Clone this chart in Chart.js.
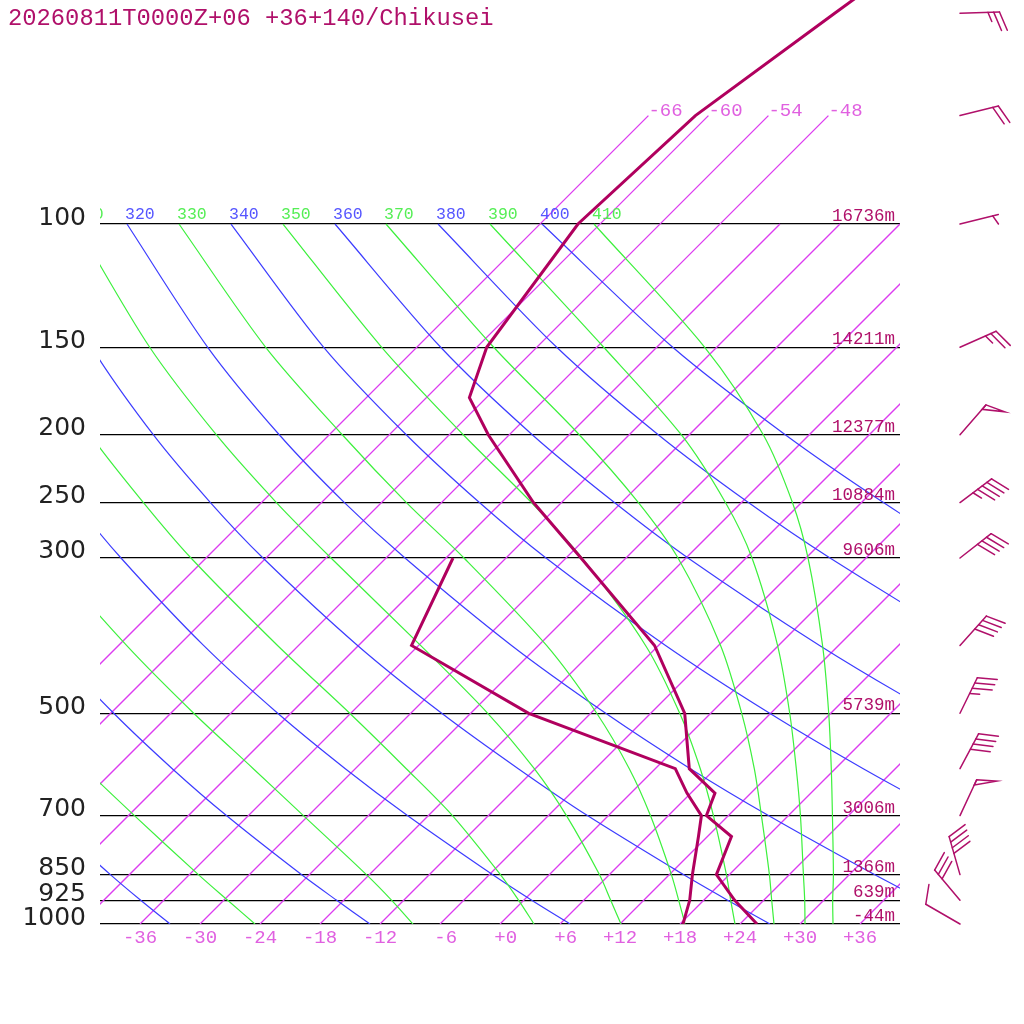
<!DOCTYPE html>
<html>
<head>
<meta charset="utf-8">
<title>Chikusei sounding</title>
<script src="https://cdn.jsdelivr.net/npm/chart.js@4.4.1/dist/chart.umd.min.js"></script>
<style>
  html, body { margin: 0; padding: 0; background: #fff; }
  canvas { display: block; }
</style>
</head>
<body>
<canvas id="skewt" width="1024" height="1024"></canvas>
<script>
// === Data ===
const TITLE = '20260811T0000Z+06 +36+140/Chikusei';

// pressure axis (hPa) and geopotential heights
const P_TOP = 47.86;
const PRESSURE_TICKS = [100, 150, 200, 250, 300, 500, 700, 850, 925, 1000];
const HEIGHTS = ['16736m', '14211m', '12377m', '10884m', '9606m', '5739m', '3006m', '1366m', '639m', '-44m'];

// temperature ticks along 1000 hPa
const T_TICKS = [-36, -30, -24, -18, -12, -6, 0, 6, 12, 18, 24, 30, 36];

// sounding
const TEMP_P = [1000, 925, 850, 750, 700, 650, 600, 500, 400, 300, 250, 200, 177, 150, 100, 70, 50, 40];
const TEMP_C = [25.7, 21.1, 16.7, 14.4, 9.8, 8.4, 3.4, -2.6, -12.4, -28.5, -38.8, -50.1, -55.7, -59.0, -62.2, -61.3, -57.6, -55.1];
const DEW_P = [1000, 925, 850, 750, 700, 650, 600, 500, 400, 300];
const DEW_C = [18.3, 16.6, 14.3, 11.1, 9.3, 5.6, 2.0, -18.2, -36.7, -41.3];

// wind barbs
const WIND_P = [50, 70, 100, 150, 200, 250, 300, 400, 500, 600, 700, 850, 925, 1000];
const WIND_DIR = [88, 76, 76, 66, 41, 53, 52, 42, 26, 28, 25, 344, 320, 300];
const WIND_KT = [25, 20, 5, 25, 50, 45, 40, 40, 35, 40, 50, 40, 30, 10];

// isotherms (deg C); the labelled ones reach up to 70 hPa
const ISOTHERMS = [-66, -60, -54, -48, -42, -36, -30, -24, -18, -12, -6, 0, 6, 12, 18, 24, 30, 36];
const ISOTHERM_LABELLED = [-66, -60, -54, -48];
const ISOTHERM_LABEL_P = 70;

// adiabats: temperature (deg C) at these levels
const ADIABAT_P = [1000, 925, 850, 700, 600, 500, 400, 300, 250, 200, 150, 100];

const DRY_THETA = [240, 260, 280, 300, 320, 340, 360, 380, 400];
const DRY_T = [
  [-33.0, -38.3, -43.9, -56.3, -65.6, -76.1, -88.3, -102.9, -111.5, -121.5, -133.4, -148.7],
  [-13.0, -18.7, -24.8, -38.2, -48.3, -59.7, -72.9, -88.7, -98.0, -108.8, -121.8, -138.3],
  [7.0, 0.8, -5.7, -20.1, -31.0, -43.3, -57.5, -74.5, -84.6, -96.2, -110.2, -128.0],
  [27.0, 20.4, 13.4, -2.1, -13.7, -26.9, -42.1, -60.3, -71.1, -83.6, -98.5, -117.6],
  [47.0, 40.0, 32.5, 16.0, 3.5, -10.5, -26.7, -46.1, -57.7, -71.0, -86.9, -107.3],
  [67.0, 59.5, 51.6, 34.1, 20.8, 5.9, -11.3, -32.0, -44.2, -58.3, -75.3, -96.9],
  [87.0, 79.1, 70.7, 52.1, 38.1, 22.3, 4.1, -17.8, -30.7, -45.7, -63.6, -86.5],
  [107.0, 98.6, 89.8, 70.2, 55.4, 38.7, 19.5, -3.6, -17.3, -33.1, -52.0, -76.2],
  [127.0, 118.2, 108.9, 88.2, 72.7, 55.1, 34.9, 10.6, -3.8, -20.4, -40.4, -65.8]
];

const MOIST_THETA = [250, 270, 290, 310, 330, 350, 370, 390, 410];
const MOIST_T = [
  [-24.5, -29.6, -35.1, -47.4, -57.0, -67.9, -80.6, -95.8, -104.8, -115.2, -127.6, -143.5],
  [-8.7, -13.2, -18.3, -30.5, -40.2, -51.7, -65.2, -81.6, -91.3, -102.5, -116.0, -133.2],
  [3.4, -0.5, -4.9, -15.6, -24.9, -36.1, -50.1, -67.5, -77.8, -89.9, -104.3, -122.8],
  [12.1, 8.7, 5.0, -4.2, -12.1, -22.3, -35.8, -53.5, -64.5, -77.3, -92.7, -112.4],
  [18.5, 15.5, 12.2, 4.2, -2.6, -11.4, -23.2, -40.2, -51.5, -64.7, -81.1, -102.1],
  [23.5, 20.7, 17.7, 10.5, 4.5, -3.1, -13.3, -28.4, -39.0, -52.6, -69.5, -91.7],
  [27.4, 24.8, 22.0, 15.3, 9.9, 3.1, -5.8, -18.8, -28.3, -41.0, -58.3, -81.4],
  [30.5, 28.1, 25.4, 19.2, 14.1, 7.9, -0.1, -11.4, -19.6, -30.8, -47.3, -71.0],
  [33.3, 30.9, 28.4, 22.4, 17.6, 11.8, 4.4, -5.8, -12.9, -22.6, -37.2, -60.6]
];

// === Colours / fonts ===
const C_SOUNDING = '#b0005e';
const C_TEXT = '#b0106a';
const C_ISO = '#dc3cf0';
const C_ISO_TEXT = '#e060e0';
const C_DRY = '#3c3cff';
const C_DRY_TEXT = '#5555ff';
const C_MOIST = '#3cf03c';
const C_MOIST_TEXT = '#55ee55';
const MONO = '"Liberation Mono", "DejaVu Sans Mono", monospace';

// skew: isotherms lean 45 degrees (deg C per ln(p) unit)
const SKEW = 30.4;
const skewX = (t, p) => t + SKEW * Math.log(1000 / p);

const pts = (temps, pres) => temps.map((t, i) => ({ x: skewX(t, pres[i]), y: pres[i] }));

function lineSet(data, color, width, order, tension) {
  return {
    data,
    showLine: true,
    borderColor: color,
    backgroundColor: color,
    borderWidth: width,
    pointRadius: 0,
    pointHoverRadius: 0,
    fill: false,
    tension: tension || 0,
    order
  };
}

const datasets = [];
datasets.push(lineSet(pts(TEMP_C, TEMP_P), C_SOUNDING, 3, 0));
datasets.push(lineSet(pts(DEW_C, DEW_P), C_SOUNDING, 3, 0));
MOIST_T.forEach(row => datasets.push(lineSet(pts(row, ADIABAT_P), C_MOIST, 1.2, 1, 0.3)));
DRY_T.forEach(row => datasets.push(lineSet(pts(row, ADIABAT_P), C_DRY, 1.2, 2, 0.3)));
ISOTHERMS.forEach(t => {
  const top = ISOTHERM_LABELLED.includes(t) ? ISOTHERM_LABEL_P : 100;
  datasets.push(lineSet(pts([t, t], [1000, top]), C_ISO, 1.3, 3));
});

// === Wind barb ===
const STAFF = 39.5, FULL = 20, HALF = 10, SPACING = 5.8, FEATHER_ANGLE = 69;

function drawBarb(ctx, x0, y0, dir, kt) {
  const rad = dir * Math.PI / 180;
  const ux = Math.sin(rad), uy = -Math.cos(rad);
  const a = FEATHER_ANGLE * Math.PI / 180;
  const fx = ux * Math.cos(a) - uy * Math.sin(a);
  const fy = ux * Math.sin(a) + uy * Math.cos(a);
  const tipX = x0 + ux * STAFF, tipY = y0 + uy * STAFF;
  const at = i => [tipX - ux * SPACING * i, tipY - uy * SPACING * i];

  ctx.beginPath();
  ctx.moveTo(x0, y0);
  ctx.lineTo(tipX, tipY);
  ctx.stroke();

  let rest = Math.round(kt / 5) * 5;
  let i = 0;
  while (rest >= 50) {
    const [px, py] = at(i);
    const [qx, qy] = at(i + 1);
    ctx.beginPath();
    ctx.moveTo(px, py);
    ctx.lineTo(px + fx * FULL, py + fy * FULL);
    ctx.lineTo(qx, qy);
    ctx.closePath();
    ctx.stroke();
    rest -= 50;
    i += 1.5;
  }
  while (rest >= 10) {
    const [px, py] = at(i);
    ctx.beginPath();
    ctx.moveTo(px, py);
    ctx.lineTo(px + fx * FULL, py + fy * FULL);
    ctx.stroke();
    rest -= 10;
    i += 1;
  }
  if (rest >= 5) {
    if (i === 0) i = 1;
    const [px, py] = at(i);
    ctx.beginPath();
    ctx.moveTo(px, py);
    ctx.lineTo(px + fx * HALF, py + fy * HALF);
    ctx.stroke();
  }
}

// === Labels, title and barbs ===
const overlay = {
  id: 'overlay',
  afterDraw(chart) {
    const { ctx, chartArea } = chart;
    const xs = chart.scales.x, ys = chart.scales.y;
    ctx.save();

    // title
    ctx.fillStyle = C_TEXT;
    ctx.font = '23.8px ' + MONO;
    ctx.textAlign = 'left';
    ctx.textBaseline = 'alphabetic';
    ctx.fillText(TITLE, 8, 25);

    // heights on the right of each pressure line
    ctx.font = '17.5px ' + MONO;
    ctx.textAlign = 'right';
    PRESSURE_TICKS.forEach((p, i) => {
      ctx.fillText(HEIGHTS[i], chartArea.right - 5, ys.getPixelForValue(p) - 3);
    });

    // isotherm labels at the top end of the long isotherms
    ctx.font = '19px ' + MONO;
    ctx.fillStyle = C_ISO_TEXT;
    ctx.textAlign = 'left';
    ISOTHERM_LABELLED.forEach(t => {
      const px = xs.getPixelForValue(skewX(t, ISOTHERM_LABEL_P));
      const py = ys.getPixelForValue(ISOTHERM_LABEL_P);
      ctx.fillText(String(t), px, py);
    });

    // adiabat labels above the 100 hPa line
    ctx.save();
    ctx.beginPath();
    ctx.rect(chartArea.left, 0, chartArea.width, chartArea.bottom);
    ctx.clip();
    ctx.font = '16.5px ' + MONO;
    const y100 = ys.getPixelForValue(100) - 5;
    const labelRow = (thetas, rows, color) => {
      ctx.fillStyle = color;
      thetas.forEach((th, i) => {
        const t100 = rows[i][rows[i].length - 1];
        ctx.fillText(String(th), xs.getPixelForValue(skewX(t100, 100)) - 2, y100);
      });
    };
    labelRow(DRY_THETA, DRY_T, C_DRY_TEXT);
    labelRow(MOIST_THETA, MOIST_T, C_MOIST_TEXT);
    ctx.restore();

    // wind barbs
    ctx.strokeStyle = C_TEXT;
    ctx.lineWidth = 1.5;
    ctx.lineCap = 'round';
    WIND_P.forEach((p, i) => {
      drawBarb(ctx, 960, ys.getPixelForValue(p), WIND_DIR[i], WIND_KT[i]);
    });

    ctx.restore();
  }
};

const fmtT = v => (v > 0 ? '+' + v : v === 0 ? '+0' : String(v)).padStart(3, ' ');

new Chart(document.getElementById('skewt'), {
  type: 'scatter',
  data: { datasets },
  options: {
    responsive: false,
    animation: false,
    devicePixelRatio: 1,
    events: [],
    layout: { padding: { left: 0, right: 124, top: 0, bottom: 0 } },
    plugins: {
      legend: { display: false },
      tooltip: { enabled: false },
      title: { display: false },
      colors: { enabled: false }
    },
    scales: {
      x: {
        type: 'linear',
        position: 'bottom',
        min: -40,
        max: 40,
        grid: { display: false, drawTicks: false },
        border: { display: false },
        afterBuildTicks: s => { s.ticks = T_TICKS.map(v => ({ value: v })); },
        afterFit: s => { s.height = 100; s.paddingLeft = 0; s.paddingRight = 0; s.paddingTop = 0; s.paddingBottom = 0; },
        ticks: {
          autoSkip: false,
          maxRotation: 0,
          padding: 3,
          color: C_ISO_TEXT,
          font: { family: MONO, size: 19 },
          callback: v => fmtT(v)
        }
      },
      y: {
        type: 'logarithmic',
        position: 'left',
        min: P_TOP,
        max: 1000,
        reverse: true,
        grid: { color: '#000', lineWidth: 1.2, drawTicks: false },
        border: { display: false },
        afterBuildTicks: s => { s.ticks = PRESSURE_TICKS.map(v => ({ value: v })); },
        afterFit: s => { s.width = 100; s.paddingLeft = 0; s.paddingRight = 0; s.paddingTop = 0; s.paddingBottom = 0; },
        ticks: {
          autoSkip: false,
          padding: 14,
          labelOffset: -6,
          color: '#222',
          font: { family: 'DejaVu Sans', size: 25 },
          callback: v => String(v)
        }
      }
    }
  },
  plugins: [overlay]
});
</script>
</body>
</html>
